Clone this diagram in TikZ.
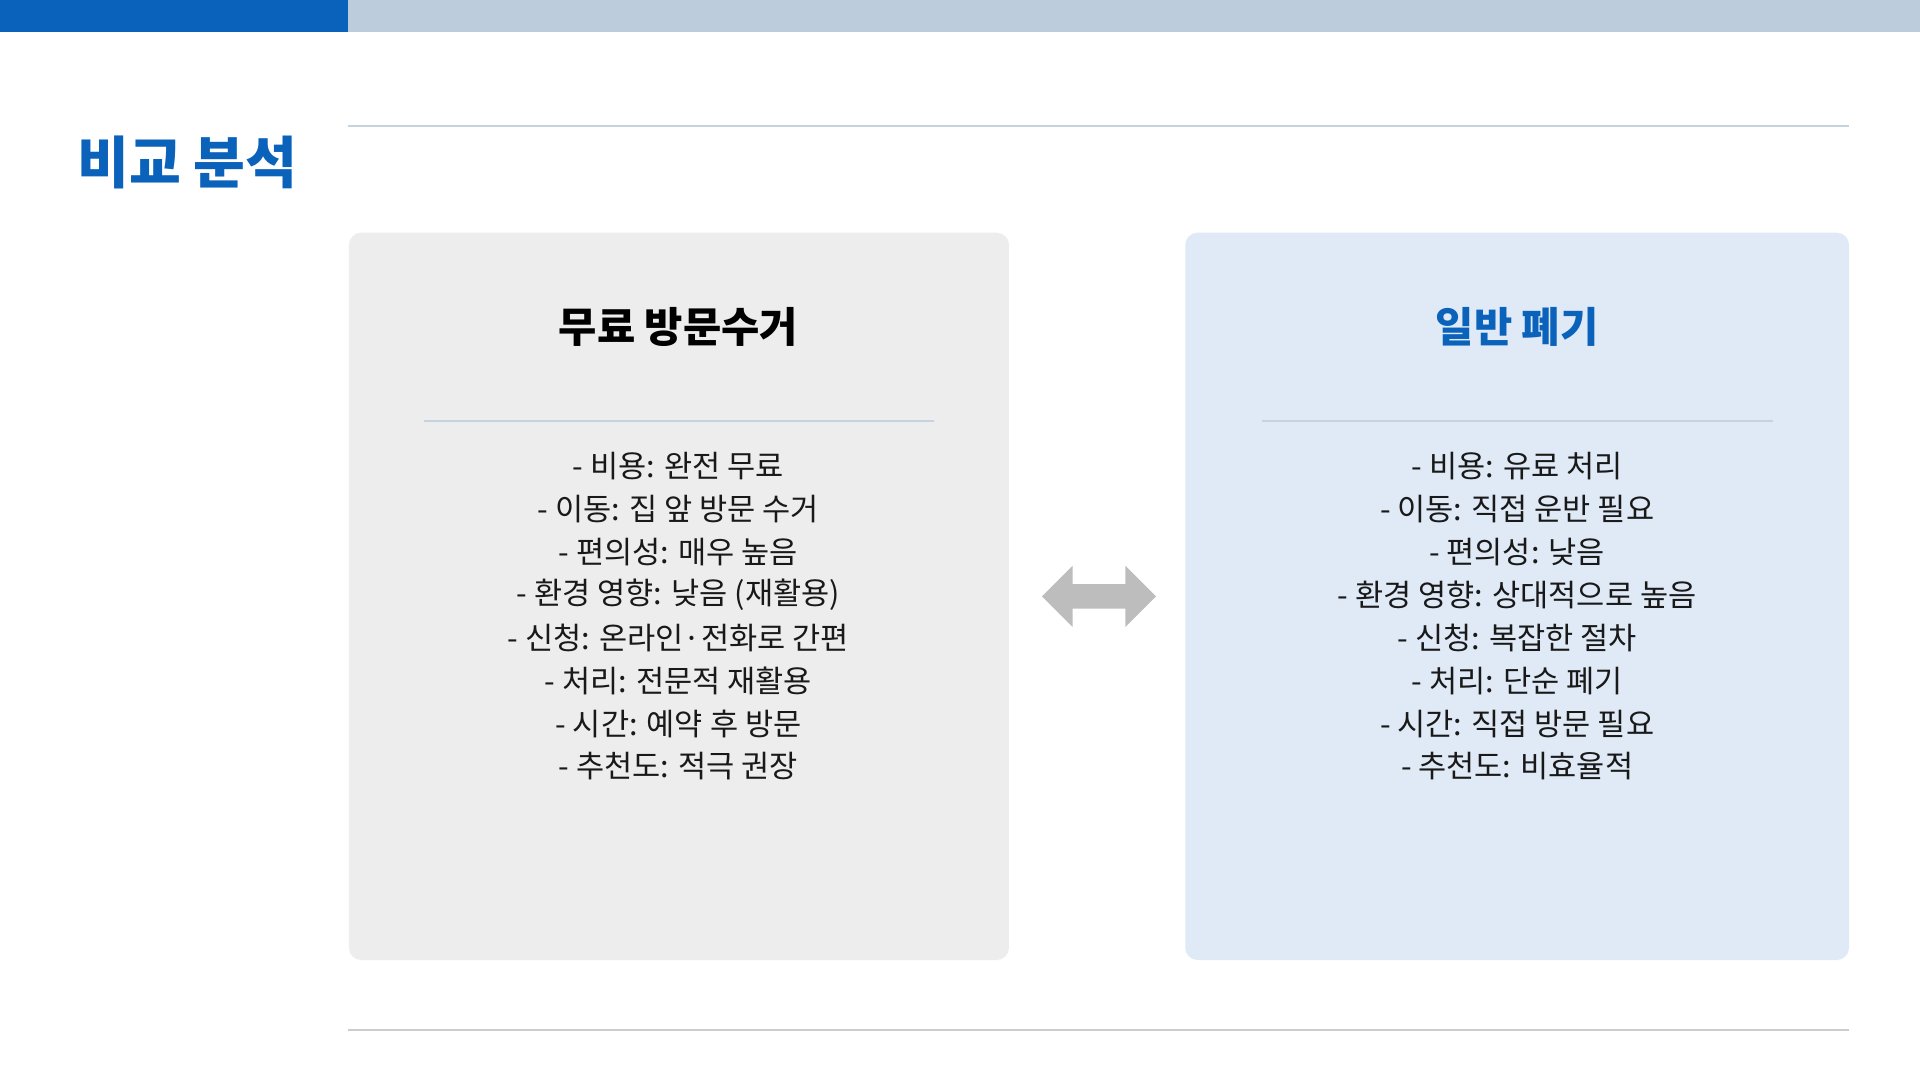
\documentclass[tikz,border=0pt]{standalone}
\usepackage{fontspec}
\setmainfont{Noto Sans CJK KR}
\usepackage{tikz}
\usetikzlibrary{positioning}

\definecolor{mainblue}{HTML}{0A62BA}
\definecolor{barbg}{HTML}{BCCCDC}
\definecolor{rulecol}{HTML}{C5D3E0}
\definecolor{leftbg}{HTML}{EDEDED}
\definecolor{rightbg}{HTML}{DFEAF6}
\definecolor{arrowgray}{HTML}{BDBDBD}

\tikzset{
  card/.style={rounded corners=5pt},
  cardtitle/.style={font=\fontsize{17}{20}\selectfont\bfseries, anchor=center},
  itemtext/.style={font=\fontsize{12.5}{15}\selectfont, anchor=center, text=black!90}
}

\begin{document}
\begin{tikzpicture}[x=0.5pt,y=-0.5pt]

            \useasboundingbox (0,0) rectangle (1568,882);
            \fill[white] (0,0) rectangle (1568,882);

            % top bar
            \fill[barbg] (0,0) rectangle (1568,26);
            \fill[mainblue] (0,0) rectangle (284,26);

            % heading
            \node[font=\fontsize{23}{26}\selectfont\bfseries, text=mainblue, anchor=west] (heading) at (56,133) {비교 분석};
            \draw[rulecol, line width=0.8pt] (284,103) -- (1510,103);
            \draw[black!20, line width=0.8pt] (284,841) -- (1510,841);

            % cards
            \fill[leftbg, card] (285,190) rectangle (824,784);
            \fill[rightbg, card] (968,190) rectangle (1510,784);

            \node[cardtitle, text=black] (lefttitle) at (554,267) {무료 방문수거};
            \node[cardtitle, text=mainblue] (righttitle) at (1239,267) {일반 폐기};

            \draw[rulecol, line width=0.8pt] (346,344) -- (763,344);
            \draw[rulecol, line width=0.8pt] (1031,344) -- (1448,344);

            % items
            \foreach \txt [count=\i] in {- 비용: 완전 무료, - 이동: 집 앞 방문 수거, - 편의성: 매우 높음,
                - 환경 영향: 낮음 (재활용), - 신청: 온라인·전화로 간편, - 처리: 전문적 재활용,
                - 시간: 예약 후 방문, - 추천도: 적극 권장}
                \node[itemtext] (left\i) at (554,346+35*\i) {\txt};

            \foreach \txt [count=\i] in {- 비용: 유료 처리, - 이동: 직접 운반 필요, - 편의성: 낮음,
                - 환경 영향: 상대적으로 높음, - 신청: 복잡한 절차, - 처리: 단순 폐기,
                - 시간: 직접 방문 필요, - 추천도: 비효율적}
                \node[itemtext] (right\i) at (1239,346+35*\i) {\txt};

            % double arrow
            \fill[arrowgray] (851,487) -- (876,462) -- (876,477) -- (919,477) -- (919,462)
                -- (944,487) -- (919,512) -- (919,497) -- (876,497) -- (876,512) -- cycle;

\end{tikzpicture}
\end{document}
